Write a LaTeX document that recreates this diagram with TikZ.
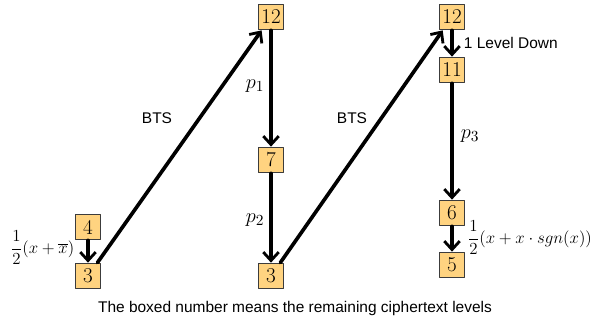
\documentclass[tikz,border=0pt]{standalone}
\usepackage{fontspec}
\setsansfont{Liberation Sans}
\usetikzlibrary{arrows.meta}

\definecolor{boxfill}{RGB}{255,211,128}
\definecolor{boxline}{RGB}{60,60,60}

\begin{document}
\begin{tikzpicture}[x=0.025cm, y=-0.025cm, line cap=round, line join=round,
  level/.style={draw=boxline, fill=boxfill, line width=0.8pt, minimum size=0.64cm,
    inner sep=0pt, font=\fontsize{15}{15}\selectfont},
  jump/.style={line width=2.6pt},
  down/.style={line width=2.6pt, -{Straight Barb[length=6pt,width=11pt,line width=2pt]}},
  tag/.style={font=\sffamily\fontsize{11}{13}\selectfont},
  expr/.style={font=\fontsize{13}{15}\selectfont, inner sep=1pt},
  poly/.style={font=\fontsize{15}{17}\selectfont, inner sep=1pt}]

% Frame of the drawing
\useasboundingbox (0,0) rectangle (597,324);

% Left column
\node[level] (a4) at (88,227) {4};
\node[level] (a3) at (88,276) {3};

% Middle column
\node[level] (b12) at (271,17) {12};
\node[level] (b7) at (271,160) {7};
\node[level] (b3) at (271,276) {3};

% Right column
\node[level] (c12) at (452,17) {12};
\node[level] (c11) at (452,70) {11};
\node[level] (c6) at (452,213) {6};
\node[level] (c5) at (452,265) {5};

% Level drops inside each column
\draw[down] (a4) -- (a3);
\draw[down] (b12) -- (b7);
\draw[down] (b7) -- (b3);
\draw[down] (c12) -- (c11);
\draw[down] (c11) -- (c6);
\draw[down] (c6) -- (c5);

% Bootstrapping back up to the top level
\draw[jump, -{Straight Barb[length=6pt,width=11pt,line width=2pt]}] (a3) -- (b12);
\draw[jump, -{Straight Barb[length=6pt,width=11pt,line width=2pt]}] (b3) -- (c12);

% Labels
\node[expr, anchor=east] (fa) at (76,248) {$\displaystyle\frac{1}{2}(x+\overline{x})$};
\node[tag] (bts1) at (157,118) {BTS};
\node[tag] (bts2) at (352,118) {BTS};
\node[poly] (p1) at (255,86) {$p_1$};
\node[poly] (p2) at (255,220) {$p_2$};
\node[poly] (p3) at (470,136) {$p_3$};
\node[tag, anchor=west] (lvl) at (459,43) {1 Level Down};
\node[expr, anchor=west] (fc) at (466,238) {$\displaystyle\frac{1}{2}(x+x\cdot sgn(x))$};

\node[tag] (note) at (295,308) {The boxed number means the remaining ciphertext levels};

\end{tikzpicture}
\end{document}
